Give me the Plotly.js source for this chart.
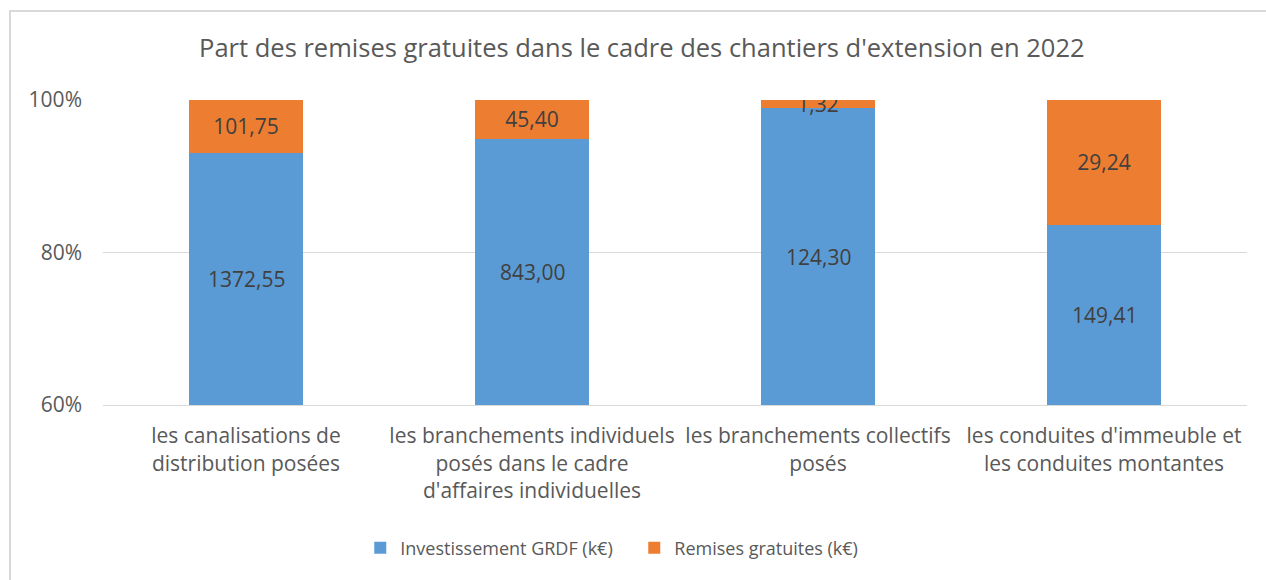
<!DOCTYPE html>
<html>
<head>
<meta charset="utf-8">
<script src="https://cdn.plot.ly/plotly-3.0.1.min.js"></script>
<style>
  html, body { margin: 0; padding: 0; background: #ffffff; }
  #wrap { position: relative; width: 1266px; height: 580px; overflow: hidden; }
  #frame { position: absolute; left: 9px; top: 10px; right: -5px; bottom: -5px;
           border-left: 2px solid #d9d9d9; border-top: 2px solid #d9d9d9; pointer-events: none; }
  #chart { position: absolute; left: 0; top: 0; width: 1266px; height: 580px; }
</style>
</head>
<body>
<div id="wrap">
  <div id="chart"></div>
  <div id="frame"></div>
</div>
<script>
const categories = [
  "les canalisations de<br>distribution posées",
  "les branchements individuels<br>posés dans le cadre<br>d'affaires individuelles",
  "les branchements collectifs<br>posés",
  "les conduites d'immeuble et<br>les conduites montantes"
];
const investissementGRDF = [1372.55, 843.00, 124.30, 149.41];
const remisesGratuites = [101.75, 45.40, 1.32, 29.24];
const seriesNames = ["Investissement GRDF (k€)", "Remises gratuites (k€)"];
const titleText = "Part des remises gratuites dans le cadre des chantiers d'extension en 2022";
const yRange = [60, 100];

const FONT = "Open Sans, sans-serif";
const textFont = { family: FONT, size: 21, color: "#404040" };
const fmt = v => v.toFixed(2).replace(".", ",");

const traces = [
  {
    type: "bar", name: seriesNames[0], x: categories, y: investissementGRDF,
    marker: { color: "#5B9BD5" }, hoverinfo: "skip"
  },
  {
    type: "bar", name: seriesNames[1], x: categories, y: remisesGratuites,
    customdata: remisesGratuites, texttemplate: "%{customdata:.2f}",
    textposition: "inside", insidetextanchor: "middle", constraintext: "none",
    textfont: textFont, marker: { color: "#ED7D31" }, hoverinfo: "skip"
  }
];

// Labels for the blue segments, centred on the visible part of each bar
const blueLabels = categories.map((c, i) => {
  const share = 100 * investissementGRDF[i] / (investissementGRDF[i] + remisesGratuites[i]);
  return {
    x: c, y: (yRange[0] + share) / 2, xref: "x", yref: "y",
    text: fmt(investissementGRDF[i]), showarrow: false,
    font: textFont, xanchor: "center", yanchor: "middle"
  };
});

const layout = {
  width: 1266, height: 580,
  paper_bgcolor: "rgba(0,0,0,0)", plot_bgcolor: "rgba(0,0,0,0)",
  margin: { l: 103, r: 19, t: 100, b: 175, pad: 0 },
  barmode: "stack", barnorm: "percent", bargap: 0.6,
  separators: ", ",
  font: { family: FONT, color: "#595959" },
  title: {
    text: titleText, font: { family: FONT, size: 25.5, color: "#595959" },
    xref: "container", x: 0.507, xanchor: "center",
    yref: "container", y: 1 - 48 / 580, yanchor: "middle"
  },
  xaxis: {
    type: "category", showgrid: false, showline: true, linecolor: "#d9d9d9", linewidth: 1,
    ticks: "", tickfont: { family: FONT, size: 21, color: "#595959" }, ticklabelstandoff: 12,
    fixedrange: true
  },
  yaxis: {
    range: yRange, dtick: 20, tick0: 0, ticksuffix: "%",
    showgrid: true, gridcolor: "#d9d9d9", gridwidth: 1, zeroline: false, showline: false,
    ticks: "", tickfont: { family: FONT, size: 21, color: "#595959" }, ticklabelstandoff: 20,
    fixedrange: true
  },
  annotations: blueLabels,
  showlegend: true,
  legend: {
    orientation: "h", xref: "container", x: 0.501, xanchor: "center",
    yref: "container", y: 1 - 548 / 580, yanchor: "middle",
    font: { family: FONT, size: 18, color: "#595959" }, traceorder: "normal",
    itemwidth: 30, entrywidth: 229
  }
};

Plotly.newPlot("chart", traces, layout, { displayModeBar: false, staticPlot: true });
</script>
</body>
</html>
